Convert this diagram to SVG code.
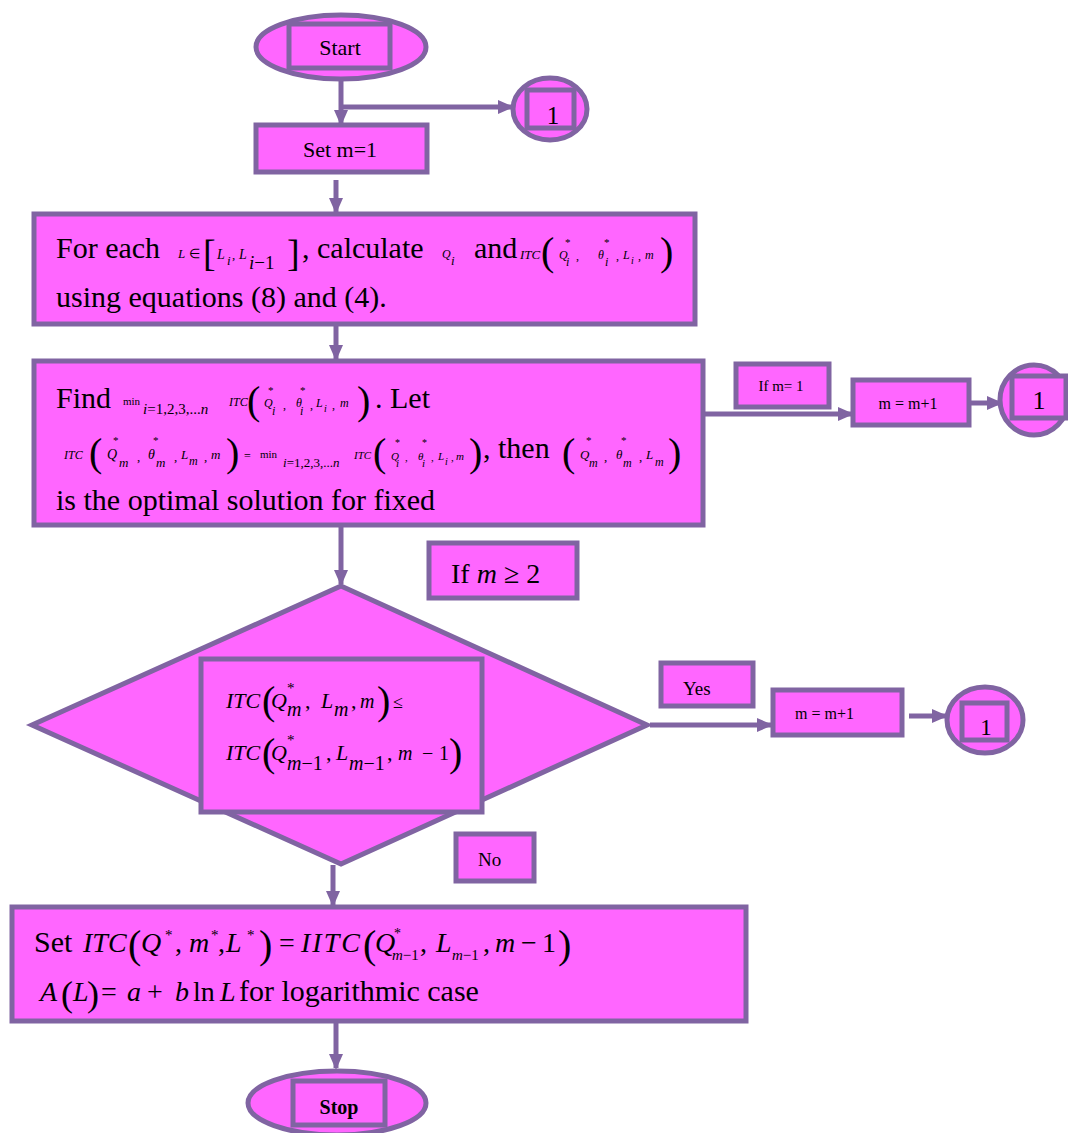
<svg xmlns="http://www.w3.org/2000/svg" width="1068" height="1133" viewBox="0 0 1068 1133">
<style>
.n{fill:#FF66FF;stroke:#8064A2;stroke-width:5}
.c{fill:none;stroke:#8064A2;stroke-width:5}
text{font-family:"Liberation Serif","Times New Roman",serif;fill:#000}
.b{font-size:30px}
.i{font-style:italic}
.p{font-size:40px}
</style>
<defs>
<marker id="ah" markerUnits="userSpaceOnUse" markerWidth="16" markerHeight="16" viewBox="0 0 16 16" refX="14" refY="8" orient="auto">
<path d="M0,1 L16,8 L0,15 Z" fill="#8064A2"/>
</marker>
</defs>
<rect width="1068" height="1133" fill="#fff"/>

<g id="connectors">
<path class="c" d="M341,80 V124" marker-end="url(#ah)"/>
<path class="c" d="M341,107 H512" marker-end="url(#ah)"/>
<path class="c" d="M336,180 V212" marker-end="url(#ah)"/>
<path class="c" d="M336,324 V359" marker-end="url(#ah)"/>
<path class="c" d="M703,414 H852" marker-end="url(#ah)"/>
<path class="c" d="M969,403 H1001" marker-end="url(#ah)"/>
<path class="c" d="M341,525 V584" marker-end="url(#ah)"/>
<path class="c" d="M650,725 H771" marker-end="url(#ah)"/>
<path class="c" d="M909,716 H946" marker-end="url(#ah)"/>
<path class="c" d="M333,865 V905" marker-end="url(#ah)"/>
<path class="c" d="M336,1021 V1068" marker-end="url(#ah)"/>
</g>

<g id="start">
<ellipse class="n" cx="341" cy="47" rx="85" ry="32"/>
<rect class="n" x="289" y="24" width="101" height="44"/>
<text x="340" y="55" font-size="22" text-anchor="middle">Start</text>
</g>

<g id="conn1a">
<ellipse class="n" cx="550" cy="109" rx="37" ry="31"/>
<rect class="n" x="527" y="90" width="47" height="38"/>
<text x="553" y="124" font-size="25" text-anchor="middle">1</text>
</g>

<g id="setm">
<rect class="n" x="256" y="125" width="171" height="47"/>
<text x="340" y="157" font-size="22" text-anchor="middle">Set m=1</text>
</g>

<g id="foreach">
<rect class="n" x="34" y="214" width="661" height="110"/>
<text y="258"><tspan class="b" x="56">For each</tspan><tspan class="i" font-size="13" x="178">L</tspan><tspan font-size="13" x="189">∈</tspan><tspan font-size="38" x="203" y="266">[</tspan><tspan class="i" font-size="14" x="217" y="259">L</tspan><tspan class="i" font-size="13" x="227" y="265">i</tspan><tspan font-size="13" x="232" y="259">,</tspan><tspan class="i" font-size="14" x="239" y="259">L</tspan><tspan class="i" font-size="19" x="249" y="269">i</tspan><tspan font-size="19" y="269">−1</tspan><tspan font-size="38" x="287" y="266">]</tspan><tspan class="b" x="302" y="258">, calculate</tspan><tspan class="i" font-size="12" x="442" y="258">Q</tspan><tspan class="i" font-size="13" x="451" y="265">i</tspan><tspan class="b" x="474" y="258">and</tspan><tspan class="i" font-size="13" x="520" y="259">ITC</tspan><tspan class="p" x="541" y="265">(</tspan><tspan class="i" font-size="12" x="559" y="259">Q</tspan><tspan font-size="11" x="565" y="246">*</tspan><tspan class="i" font-size="12" x="566" y="266">i</tspan><tspan font-size="12" x="576" y="260">,</tspan><tspan class="i" font-size="12" x="598" y="259">θ</tspan><tspan font-size="11" x="604" y="246">*</tspan><tspan class="i" font-size="12" x="605" y="266">i</tspan><tspan font-size="12" x="616" y="260">,</tspan><tspan class="i" font-size="12" x="623" y="259">L</tspan><tspan class="i" font-size="10" x="631" y="264">i</tspan><tspan font-size="12" x="638" y="260">,</tspan><tspan class="i" font-size="12" x="645" y="259">m</tspan><tspan class="p" x="660" y="265">)</tspan></text>
<text class="b" x="56" y="307">using equations (8) and (4).</text>
</g>

<g id="find">
<rect class="n" x="34" y="361" width="669" height="164"/>
<text y="408"><tspan class="b" x="56">Find</tspan><tspan font-size="11" x="123" y="405">min</tspan><tspan class="i" font-size="15" x="143" y="414">i</tspan><tspan font-size="15" y="414">=1,2,3,...</tspan><tspan class="i" font-size="15" y="414">n</tspan><tspan class="i" font-size="12" x="229" y="406">ITC</tspan><tspan class="p" x="247" y="414">(</tspan><tspan class="i" font-size="12" x="264" y="407">Q</tspan><tspan font-size="11" x="268" y="394">*</tspan><tspan class="i" font-size="12" x="272" y="415">i</tspan><tspan font-size="12" x="283" y="409">,</tspan><tspan class="i" font-size="12" x="296" y="407">θ</tspan><tspan font-size="11" x="300" y="394">*</tspan><tspan class="i" font-size="12" x="300" y="415">i</tspan><tspan font-size="12" x="310" y="409">,</tspan><tspan class="i" font-size="12" x="316" y="407">L</tspan><tspan class="i" font-size="10" x="324" y="412">i</tspan><tspan font-size="12" x="332" y="409">,</tspan><tspan class="i" font-size="12" x="340" y="407">m</tspan><tspan class="p" x="357" y="414">)</tspan><tspan class="b" x="375" y="408">. Let</tspan></text>
<text y="458"><tspan class="i" font-size="12" x="64" y="459">ITC</tspan><tspan class="p" x="89" y="466">(</tspan><tspan class="i" font-size="14" x="107" y="459">Q</tspan><tspan font-size="11" x="113" y="444">*</tspan><tspan class="i" font-size="13" x="119" y="467">m</tspan><tspan font-size="13" x="137" y="461">,</tspan><tspan class="i" font-size="14" x="148" y="459">θ</tspan><tspan font-size="11" x="153" y="444">*</tspan><tspan class="i" font-size="13" x="156" y="467">m</tspan><tspan font-size="13" x="174" y="461">,</tspan><tspan class="i" font-size="13" x="181" y="459">L</tspan><tspan class="i" font-size="12" x="189" y="465">m</tspan><tspan font-size="13" x="204" y="461">,</tspan><tspan class="i" font-size="13" x="211" y="459">m</tspan><tspan class="p" x="226" y="466">)</tspan><tspan font-size="12" x="244" y="460">=</tspan><tspan font-size="11" x="260" y="458">min</tspan><tspan class="i" font-size="13" x="283" y="467">i</tspan><tspan font-size="13" y="467">=1,2,3,...</tspan><tspan class="i" font-size="13" y="467">n</tspan><tspan class="i" font-size="11" x="354" y="459">ITC</tspan><tspan class="p" x="373" y="466">(</tspan><tspan class="i" font-size="11" x="391" y="460">Q</tspan><tspan font-size="10" x="395" y="446">*</tspan><tspan class="i" font-size="11" x="396" y="467">i</tspan><tspan font-size="11" x="405" y="461">,</tspan><tspan class="i" font-size="11" x="418" y="460">θ</tspan><tspan font-size="10" x="422" y="446">*</tspan><tspan class="i" font-size="11" x="422" y="467">i</tspan><tspan font-size="11" x="431" y="461">,</tspan><tspan class="i" font-size="11" x="438" y="460">L</tspan><tspan class="i" font-size="10" x="445" y="465">i</tspan><tspan font-size="11" x="451" y="461">,</tspan><tspan class="i" font-size="11" x="456" y="460">m</tspan><tspan class="p" x="469" y="466">)</tspan><tspan class="b" x="483" y="458">, then</tspan><tspan class="p" x="562" y="466">(</tspan><tspan class="i" font-size="13" x="580" y="459">Q</tspan><tspan font-size="11" x="586" y="444">*</tspan><tspan class="i" font-size="12" x="589" y="467">m</tspan><tspan font-size="13" x="604" y="461">,</tspan><tspan class="i" font-size="13" x="616" y="459">θ</tspan><tspan font-size="11" x="621" y="444">*</tspan><tspan class="i" font-size="12" x="623" y="467">m</tspan><tspan font-size="13" x="639" y="461">,</tspan><tspan class="i" font-size="13" x="646" y="459">L</tspan><tspan class="i" font-size="12" x="655" y="466">m</tspan><tspan class="p" x="668" y="466">)</tspan></text>
<text class="b" x="56" y="510">is the optimal solution for fixed</text>
</g>

<g id="ifm1">
<rect class="n" x="736" y="364" width="93" height="43"/>
<text x="781" y="391" font-size="15" text-anchor="middle">If m= 1</text>
</g>

<g id="mplus1a">
<rect class="n" x="853" y="380" width="116" height="45"/>
<text x="908" y="409" font-size="16" text-anchor="middle">m = m+1</text>
</g>

<g id="conn1b">
<ellipse class="n" cx="1034" cy="400" rx="34" ry="35"/>
<rect class="n" x="1012" y="376" width="54" height="42"/>
<text x="1039" y="409" font-size="26" text-anchor="middle">1</text>
</g>

<g id="ifm2">
<rect class="n" x="429" y="543" width="148" height="55"/>
<text x="451" y="583" font-size="28">If <tspan class="i">m</tspan> ≥ 2</text>
</g>

<g id="decision">
<polygon class="n" points="341,586 647,725 341,864 32,725"/>
<rect class="n" x="201" y="659" width="281" height="153"/>
<text y="708"><tspan class="i" font-size="22" x="226">ITC</tspan><tspan class="p" x="262" y="714">(</tspan><tspan class="i" font-size="22" x="271" y="708">Q</tspan><tspan font-size="15" x="287" y="693">*</tspan><tspan class="i" font-size="20" x="287" y="716">m</tspan><tspan font-size="22" x="305" y="708">,</tspan><tspan class="i" font-size="22" x="321" y="708">L</tspan><tspan class="i" font-size="20" x="334" y="716">m</tspan><tspan font-size="22" x="351" y="708">,</tspan><tspan class="i" font-size="20" x="360" y="708">m</tspan><tspan class="p" x="377" y="714">)</tspan><tspan font-size="18" x="393" y="708">≤</tspan></text>
<text y="760"><tspan class="i" font-size="22" x="226">ITC</tspan><tspan class="p" x="262" y="766">(</tspan><tspan class="i" font-size="22" x="271" y="760">Q</tspan><tspan font-size="15" x="287" y="745">*</tspan><tspan class="i" font-size="20" x="287" y="770">m</tspan><tspan font-size="20" y="770">−1</tspan><tspan font-size="22" x="326" y="760">,</tspan><tspan class="i" font-size="22" x="336" y="760">L</tspan><tspan class="i" font-size="20" x="349" y="770">m</tspan><tspan font-size="20" y="770">−1</tspan><tspan font-size="22" x="387" y="760">,</tspan><tspan class="i" font-size="20" x="398" y="760">m</tspan><tspan font-size="20" x="422" y="760">−</tspan><tspan font-size="20" x="439" y="760">1</tspan><tspan class="p" x="449" y="766">)</tspan></text>
</g>

<g id="yes">
<rect class="n" x="661" y="663" width="92" height="43"/>
<text x="683" y="695" font-size="19">Yes</text>
</g>

<g id="mplus1b">
<rect class="n" x="773" y="690" width="129" height="45"/>
<text x="795" y="719" font-size="16">m = m+1</text>
</g>

<g id="conn1c">
<ellipse class="n" cx="985" cy="720" rx="38" ry="33"/>
<rect class="n" x="962" y="703" width="45" height="37"/>
<text x="986" y="735" font-size="23" text-anchor="middle">1</text>
</g>

<g id="no">
<rect class="n" x="456" y="834" width="78" height="47"/>
<text x="478" y="866" font-size="19">No</text>
</g>

<g id="setitc">
<rect class="n" x="12" y="907" width="734" height="114"/>
<text y="952"><tspan class="b" x="34">Set</tspan><tspan class="i" font-size="28" x="83">ITC</tspan><tspan class="p" x="128" y="958">(</tspan><tspan class="i" font-size="28" x="141" y="952">Q</tspan><tspan font-size="15" x="165" y="940">*</tspan><tspan font-size="28" x="175" y="952">,</tspan><tspan class="i" font-size="28" x="189" y="952">m</tspan><tspan font-size="15" x="211" y="940">*</tspan><tspan font-size="28" x="218" y="952">,</tspan><tspan class="i" font-size="28" x="226" y="952">L</tspan><tspan font-size="15" x="247" y="940">*</tspan><tspan class="p" x="259" y="958">)</tspan><tspan font-size="28" x="279" y="952">=</tspan><tspan class="i" font-size="28" x="301" y="952" letter-spacing="2">IITC</tspan><tspan class="p" x="363" y="958">(</tspan><tspan class="i" font-size="28" x="375" y="952">Q</tspan><tspan font-size="14" x="394" y="938">*</tspan><tspan class="i" font-size="15" x="392" y="960">m</tspan><tspan font-size="15" y="960">−1</tspan><tspan font-size="28" x="420" y="952">,</tspan><tspan class="i" font-size="28" x="436" y="952">L</tspan><tspan class="i" font-size="15" x="452" y="960">m</tspan><tspan font-size="15" y="960">−1</tspan><tspan font-size="28" x="483" y="952">,</tspan><tspan class="i" font-size="28" x="495" y="952">m</tspan><tspan font-size="28" x="521" y="952">−</tspan><tspan font-size="28" x="542" y="952">1</tspan><tspan class="p" x="558" y="958">)</tspan></text>
<text y="1001"><tspan class="i" font-size="28" x="40">A</tspan><tspan font-size="36" x="61" y="1006">(</tspan><tspan class="i" font-size="28" x="73" y="1001">L</tspan><tspan font-size="36" x="87" y="1006">)</tspan><tspan font-size="28" x="101" y="1001">=</tspan><tspan class="i" font-size="28" x="127" y="1001">a</tspan><tspan font-size="28" x="147" y="1001">+</tspan><tspan class="i" font-size="28" x="175" y="1001">b</tspan><tspan font-size="28" x="193" y="1001">ln</tspan><tspan class="i" font-size="28" x="220" y="1001">L</tspan><tspan class="b" x="239" y="1001">for logarithmic case</tspan></text>
</g>

<g id="stop">
<ellipse class="n" cx="337" cy="1103" rx="89" ry="32"/>
<rect class="n" x="293" y="1081" width="92" height="44"/>
<text x="339" y="1114" font-size="20" font-weight="bold" text-anchor="middle">Stop</text>
</g>
</svg>
